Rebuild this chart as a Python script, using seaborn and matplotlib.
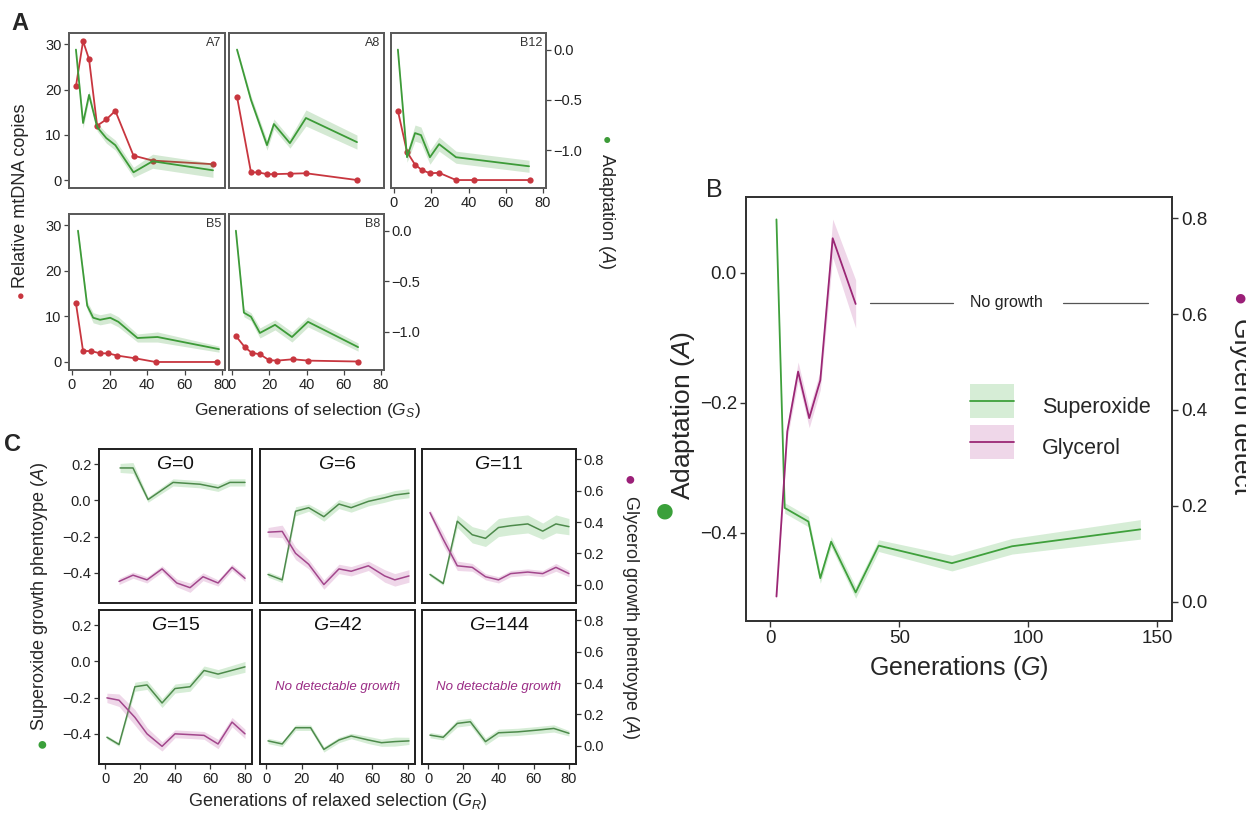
import numpy as np
import matplotlib
matplotlib.use("Agg")
import matplotlib.pyplot as plt
import seaborn as sns
from matplotlib.patches import Patch, Rectangle
from matplotlib.lines import Line2D
from matplotlib.legend_handler import HandlerPatch

# ======================= DATA =======================
# Panel A : relative mtDNA copies (left axis, red) and adaptation A (right axis, green)
A7_gen_mt = [2.1, 5.9, 9.1, 13.4, 18.3, 23.1, 32.8, 43.0, 75.2]
A7_mtdna = [20.7, 30.7, 26.7, 12.0, 13.4, 15.3, 5.4, 4.3, 3.5]
A7_gen_ad = [2.1, 5.9, 9.1, 13.4, 18.3, 23.1, 32.8, 43.0, 75.2]
A7_adapt = [0.0, -0.73, -0.45, -0.77, -0.88, -0.95, -1.22, -1.11, -1.20]
A7_adapt_err = [0.02, 0.05, 0.04, 0.04, 0.05, 0.05, 0.05, 0.07, 0.07]

A8_gen_mt = [2.7, 10.2, 14.0, 18.8, 22.5, 31.1, 39.7, 67.1]
A8_mtdna = [18.4, 1.7, 1.7, 1.3, 1.3, 1.4, 1.5, 0.0]
A8_gen_ad = [2.7, 10.2, 18.8, 22.5, 31.1, 39.7, 67.1]
A8_adapt = [0.0, -0.50, -0.95, -0.74, -0.93, -0.68, -0.92]
A8_adapt_err = [0.02, 0.04, 0.05, 0.05, 0.05, 0.08, 0.07]

B12_gen_mt = [2.1, 7.0, 11.3, 15.0, 19.3, 24.2, 33.3, 43.0, 73.0]
B12_mtdna = [15.3, 6.2, 3.4, 2.2, 1.5, 1.6, 0.0, 0.0, 0.0]
B12_gen_ad = [2.1, 7.0, 11.3, 14.5, 19.3, 24.2, 33.3, 72.5]
B12_adapt = [0.0, -1.07, -0.83, -0.85, -1.07, -0.94, -1.07, -1.16]
B12_adapt_err = [0.02, 0.05, 0.08, 0.08, 0.07, 0.07, 0.06, 0.06]

B5_gen_mt = [2.1, 5.9, 10.2, 15.0, 19.3, 24.2, 33.8, 44.6, 77.3]
B5_mtdna = [12.9, 2.4, 2.4, 1.9, 1.9, 1.4, 0.8, 0.0, 0.0]
B5_gen_ad = [3.2, 8.1, 11.3, 15.0, 20.4, 24.7, 34.9, 45.6, 78.4]
B5_adapt = [0.0, -0.74, -0.86, -0.88, -0.86, -0.90, -1.06, -1.05, -1.17]
B5_adapt_err = [0.02, 0.04, 0.05, 0.05, 0.05, 0.05, 0.04, 0.05, 0.03]

B8_gen_mt = [2.1, 7.0, 10.7, 15.0, 19.9, 24.2, 32.8, 40.8, 67.7]
B8_mtdna = [5.7, 3.2, 2.0, 1.7, 0.4, 0.3, 0.6, 0.3, 0.1]
B8_gen_ad = [2.1, 6.4, 10.2, 15.0, 23.1, 32.2, 40.8, 67.7]
B8_adapt = [0.0, -0.81, -0.85, -1.01, -0.93, -1.05, -0.90, -1.15]
B8_adapt_err = [0.02, 0.04, 0.04, 0.05, 0.05, 0.05, 0.05, 0.04]

# Panel B : adaptation over generations
B_gen_sup = [2.4, 5.6, 14.8, 19.4, 23.6, 33.1, 42.0, 70.4, 93.7, 143.4]
B_sup = [0.082, -0.362, -0.383, -0.470, -0.414, -0.492, -0.420, -0.447, -0.421, -0.395]
B_sup_err = [0.004, 0.008, 0.008, 0.008, 0.008, 0.009, 0.009, 0.012, 0.012, 0.015]
B_gen_gly = [2.4, 6.6, 10.8, 15.1, 19.4, 24.2, 33.1]
B_gly = [0.011, 0.355, 0.48, 0.383, 0.462, 0.758, 0.621]
B_gly_err = [0.008, 0.015, 0.02, 0.02, 0.02, 0.04, 0.05]
B_nogrowth_left = [38.7, 70.8]
B_nogrowth_right = [113.5, 146.5]
B_nogrowth_level = 0.623
B_nogrowth_textx = 91.5
B_labels = ["Superoxide", "Glycerol"]

# Panel C : relaxed selection, superoxide (left axis) / glycerol (right axis)
C_titles = ["0", "6", "11", "15", "42", "144"]

C0_gen_sup = [8.6, 16.0, 24.6, 38.9, 54.3, 64.6, 71.4, 80.0]
C0_sup = [0.18, 0.18, 0.005, 0.10, 0.09, 0.07, 0.10, 0.10]
C0_sup_err = [0.025, 0.03, 0.015, 0.02, 0.02, 0.02, 0.02, 0.02]
C0_gen_gly = [8.0, 16.0, 24.0, 32.6, 41.0, 48.6, 56.0, 64.6, 72.6, 80.0]
C0_gly = [0.02, 0.06, 0.03, 0.10, 0.01, -0.02, 0.05, 0.01, 0.11, 0.04]
C0_gly_err = [0.02, 0.02, 0.02, 0.02, 0.025, 0.03, 0.025, 0.02, 0.02, 0.02]

C6_gen = [1.1, 9.1, 16.6, 24.0, 32.6, 41.1, 48.0, 57.7, 66.9, 72.6, 80.6]
C6_sup = [-0.41, -0.44, -0.06, -0.04, -0.09, -0.02, -0.04, -0.005, 0.015, 0.03, 0.04]
C6_sup_err = [0.015, 0.015, 0.025, 0.02, 0.025, 0.025, 0.025, 0.025, 0.025, 0.025, 0.025]
C6_gly = [0.335, 0.34, 0.20, 0.13, 0.0, 0.10, 0.085, 0.12, 0.055, 0.03, 0.055]
C6_gly_err = [0.03, 0.04, 0.04, 0.03, 0.03, 0.03, 0.03, 0.03, 0.04, 0.04, 0.04]

C11_gen = [1.1, 8.6, 16.6, 25.1, 32.6, 40.0, 46.9, 56.6, 65.1, 72.6, 80.0]
C11_sup = [-0.41, -0.46, -0.115, -0.19, -0.21, -0.15, -0.14, -0.13, -0.17, -0.13, -0.145]
C11_sup_err = [0.01, 0.01, 0.035, 0.045, 0.045, 0.05, 0.05, 0.05, 0.045, 0.05, 0.045]
C11_gly = [0.46, 0.29, 0.12, 0.11, 0.05, 0.03, 0.07, 0.08, 0.07, 0.11, 0.07]
C11_gly_err = [0.02, 0.04, 0.03, 0.025, 0.02, 0.02, 0.02, 0.02, 0.02, 0.025, 0.02]

C15_gen_sup = [1.1, 8.0, 17.1, 24.0, 32.6, 40.0, 48.6, 56.6, 64.6, 80.0]
C15_sup = [-0.42, -0.46, -0.14, -0.13, -0.23, -0.15, -0.14, -0.05, -0.07, -0.03]
C15_sup_err = [0.01, 0.01, 0.025, 0.025, 0.025, 0.025, 0.025, 0.025, 0.025, 0.03]
C15_gen_gly = [1.1, 8.0, 17.1, 24.0, 32.6, 40.0, 48.6, 56.6, 64.6, 72.6, 80.0]
C15_gly = [0.305, 0.29, 0.18, 0.075, -0.005, 0.075, 0.07, 0.065, 0.01, 0.15, 0.075]
C15_gly_err = [0.03, 0.04, 0.05, 0.04, 0.03, 0.025, 0.025, 0.025, 0.03, 0.03, 0.03]

C42_gen = [1.1, 9.1, 16.6, 25.1, 32.6, 41.1, 48.0, 57.7, 65.1, 72.6, 80.6]
C42_sup = [-0.44, -0.457, -0.367, -0.367, -0.487, -0.435, -0.413, -0.435, -0.45, -0.444, -0.44]
C42_sup_err = [0.015, 0.015, 0.015, 0.015, 0.015, 0.015, 0.015, 0.02, 0.02, 0.025, 0.02]

C144_gen = [1.1, 8.6, 16.6, 24.0, 32.6, 40.0, 50.9, 62.3, 71.4, 80.0]
C144_sup = [-0.408, -0.42, -0.343, -0.334, -0.444, -0.395, -0.39, -0.38, -0.371, -0.398]
C144_sup_err = [0.015, 0.015, 0.02, 0.02, 0.02, 0.02, 0.02, 0.02, 0.02, 0.015]

# ======================= STYLE =======================
sns.set_theme(style="ticks")
plt.rcParams["font.family"] = ["Liberation Sans", "DejaVu Sans"]
plt.rcParams["mathtext.fontset"] = "custom"
plt.rcParams["mathtext.rm"] = "Liberation Sans"
plt.rcParams["mathtext.it"] = "Liberation Sans:italic"
plt.rcParams["mathtext.bf"] = "Liberation Sans:bold"
plt.rcParams["axes.unicode_minus"] = True

RED = "#c8363f"
GREEN_A = "#3d9b38"
C_GREEN = "#4d8a4b"
C_PURPLE = "#a2478c"
B_GREEN = "#3fa03c"
B_PURPLE = "#9b2775"
TXT_PURPLE = "#9b2d86"
MINUS = "\u2212"

W, H = 1246, 815
fig = plt.figure(figsize=(W / 100, H / 100), dpi=100)
fig.patch.set_facecolor("white")


def box(l, t, r, b):
    return [l / W, 1 - b / H, (r - l) / W, (b - t) / H]


def ftext(x, y, s, **kw):
    return fig.text(x / W, 1 - y / H, s, **kw)


def fmt(v):
    s = f"{v:.1f}"
    return s.replace("-", MINUS)


def band(ax, x, y, e, color, alpha):
    y = np.asarray(y, float)
    e = np.asarray(e, float)
    ax.fill_between(x, y - e, y + e, color=color, alpha=alpha, lw=0)


def clean(ax):
    ax.set_xlabel("")
    ax.set_ylabel("")


# ======================= PANEL A =======================
A_panels = [
    ((69, 33, 225, 188), A7_gen_mt, A7_mtdna, A7_gen_ad, A7_adapt, A7_adapt_err, "A7", True, False, False),
    ((229, 33, 384, 188), A8_gen_mt, A8_mtdna, A8_gen_ad, A8_adapt, A8_adapt_err, "A8", False, False, False),
    ((391, 33, 546, 188), B12_gen_mt, B12_mtdna, B12_gen_ad, B12_adapt, B12_adapt_err, "B12", False, True, True),
    ((69, 214, 225, 370), B5_gen_mt, B5_mtdna, B5_gen_ad, B5_adapt, B5_adapt_err, "B5", True, False, True),
    ((229, 214, 384, 370), B8_gen_mt, B8_mtdna, B8_gen_ad, B8_adapt, B8_adapt_err, "B8", False, True, True),
]
for b, gmt, mt, gad, ad, err, name, left, right, bottom in A_panels:
    ax = fig.add_axes(box(*b))
    ax2 = ax.twinx()
    sns.lineplot(x=gmt, y=mt, ax=ax, color=RED, lw=1.3, marker="o",
                 markersize=4.5, markeredgewidth=0)
    band(ax2, gad, ad, err, GREEN_A, 0.22)
    sns.lineplot(x=gad, y=ad, ax=ax2, color=GREEN_A, lw=1.3)
    ax.set_xlim(-1.6, 81.6)
    ax.set_ylim(-1.76, 32.5)
    ax2.set_ylim(-1.376, 0.165)
    ax.set_xticks([0, 20, 40, 60, 80])
    ax.set_yticks([0, 10, 20, 30])
    ax2.set_yticks([0.0, -0.5, -1.0])
    ax2.set_yticklabels([fmt(v) for v in [0.0, -0.5, -1.0]])
    clean(ax); clean(ax2)
    for a in (ax, ax2):
        for s in a.spines.values():
            s.set_color("#5a5a5a")
            s.set_linewidth(1.3)
        a.tick_params(direction="out", length=3.5, width=0.9, color="#444",
                      labelsize=10.5, pad=2, labelcolor="#222")
    ax.tick_params(axis="y", left=left, labelleft=left)
    ax.tick_params(axis="x", bottom=bottom, labelbottom=bottom)
    ax2.tick_params(axis="y", right=right, labelright=right)
    ax.text(0.975, 0.935, name, transform=ax.transAxes, ha="right", va="center",
            fontsize=9, color="#333")

# ======================= PANEL C =======================
C_boxes = [(99, 449, 252, 603), (260, 449, 415, 603), (422, 449, 576, 603),
           (99, 610, 252, 764), (260, 610, 415, 764), (422, 610, 576, 764)]
C_sup = [(C0_gen_sup, C0_sup, C0_sup_err), (C6_gen, C6_sup, C6_sup_err),
         (C11_gen, C11_sup, C11_sup_err), (C15_gen_sup, C15_sup, C15_sup_err),
         (C42_gen, C42_sup, C42_sup_err), (C144_gen, C144_sup, C144_sup_err)]
C_gly = [(C0_gen_gly, C0_gly, C0_gly_err), (C6_gen, C6_gly, C6_gly_err),
         (C11_gen, C11_gly, C11_gly_err), (C15_gen_gly, C15_gly, C15_gly_err),
         None, None]
for i, b in enumerate(C_boxes):
    ax = fig.add_axes(box(*b))
    ax2 = ax.twinx()
    gx, gy, ge = C_sup[i]
    band(ax, gx, gy, ge, "#5cb85c", 0.25)
    sns.lineplot(x=gx, y=gy, ax=ax, color=C_GREEN, lw=1.1)
    if C_gly[i] is not None:
        px, py, pe = C_gly[i]
        band(ax2, px, py, pe, "#c060a8", 0.25)
        sns.lineplot(x=px, y=py, ax=ax2, color=C_PURPLE, lw=1.1)
    else:
        ax.text(0.5, 0.5, "No detectable growth", transform=ax.transAxes,
                ha="center", va="center", fontsize=9.5, style="italic", color=TXT_PURPLE)
    ax.set_xlim(-3.43, 84.0)
    ax.set_ylim(-0.568, 0.285)
    ax2.set_ylim(-0.118, 0.867)
    ax.set_xticks([0, 20, 40, 60, 80])
    ax.set_yticks([-0.4, -0.2, 0.0, 0.2])
    ax.set_yticklabels([fmt(v) for v in [-0.4, -0.2, 0.0, 0.2]])
    ax2.set_yticks([0.0, 0.2, 0.4, 0.6, 0.8])
    ax2.set_yticklabels([fmt(v) for v in [0.0, 0.2, 0.4, 0.6, 0.8]])
    clean(ax); clean(ax2)
    col, row = i % 3, i // 3
    for a in (ax, ax2):
        for s in a.spines.values():
            s.set_color("#222")
            s.set_linewidth(1.3)
        a.tick_params(direction="out", length=3.5, width=0.9, color="#333",
                      labelsize=10.5, pad=2, labelcolor="#222")
    ax.tick_params(axis="y", left=(col == 0), labelleft=(col == 0))
    ax.tick_params(axis="x", bottom=(row == 1), labelbottom=(row == 1))
    ax2.tick_params(axis="y", right=(col == 2), labelright=(col == 2))
    ax.text(0.5, 1 - 16 / 154, "$G$=" + C_titles[i], transform=ax.transAxes,
            ha="center", va="center", fontsize=14, color="#111")

# ======================= PANEL B =======================
axb = fig.add_axes(box(746, 197, 1172, 621))
axb2 = axb.twinx()
band(axb, B_gen_sup, B_sup, B_sup_err, "#5cb85c", 0.25)
sns.lineplot(x=B_gen_sup, y=B_sup, ax=axb, color=B_GREEN, lw=1.3)
band(axb2, B_gen_gly, B_gly, B_gly_err, "#c060a8", 0.25)
sns.lineplot(x=B_gen_gly, y=B_gly, ax=axb2, color=B_PURPLE, lw=1.3)
axb.set_xlim(-9.4, 155.7)
axb.set_ylim(-0.536, 0.1165)
axb2.set_ylim(-0.04, 0.844)
axb.set_xticks([0, 50, 100, 150])
axb.set_yticks([-0.4, -0.2, 0.0])
axb.set_yticklabels([fmt(v) for v in [-0.4, -0.2, 0.0]])
axb2.set_yticks([0.0, 0.2, 0.4, 0.6, 0.8])
axb2.set_yticklabels([fmt(v) for v in [0.0, 0.2, 0.4, 0.6, 0.8]])
clean(axb); clean(axb2)
for a in (axb, axb2):
    for s in a.spines.values():
        s.set_color("#333")
        s.set_linewidth(1.3)
    a.tick_params(direction="out", length=4, width=1.0, color="#333",
                  labelsize=13.5, pad=2.5, labelcolor="#222")

axb2.plot(B_nogrowth_left, [B_nogrowth_level] * 2, color="#555", lw=0.9)
axb2.plot(B_nogrowth_right, [B_nogrowth_level] * 2, color="#555", lw=0.9)
axb2.text(B_nogrowth_textx, B_nogrowth_level, "No growth", ha="center", va="center",
          fontsize=11.5, color="#222")


def centered_patch(legend, orig_handle, xdescent, ydescent, width, height, fontsize):
    yc = (height - ydescent) / 2.0
    return Rectangle((-xdescent, yc - height / 2.0), width, height)


handles = [
    (Patch(facecolor="#5cb85c", edgecolor="none", alpha=0.25),
     Line2D([], [], color=B_GREEN, lw=1.3)),
    (Patch(facecolor="#c060a8", edgecolor="none", alpha=0.25),
     Line2D([], [], color=B_PURPLE, lw=1.3)),
]
axb2.legend(handles, B_labels, loc="upper left",
            bbox_to_anchor=(970 / W, 1 - 389 / H), bbox_transform=fig.transFigure,
            frameon=False, fontsize=15.5, handlelength=2.05, handleheight=2.05,
            handletextpad=1.3, labelspacing=0.33, borderpad=0, borderaxespad=0,
            handler_map={Patch: HandlerPatch(patch_func=centered_patch)})

# ======================= FIGURE TEXT =======================
ftext(28, 23, "A", ha="right", va="center", fontsize=17, fontweight="bold")
ftext(714, 190, "B", ha="center", va="center", fontsize=18)
ftext(21, 445, "C", ha="right", va="center", fontsize=17, fontweight="bold")

# Panel A labels
ftext(21, 288, "Relative mtDNA copies", rotation=90, ha="center", va="bottom", fontsize=13)
ftext(21, 297, "\u25cf", color=RED, fontsize=9, ha="center", va="center")
ftext(607, 153, "Adaptation ($A$)", rotation=-90, ha="center", va="top", fontsize=13)
ftext(607, 140, "\u25cf", color=GREEN_A, fontsize=10, ha="center", va="center")
ftext(307, 410, "Generations of selection ($G_S$)", ha="center", va="center", fontsize=12.5)

# Panel C labels
ftext(40, 596, "Superoxide growth phentoype ($A$)", rotation=90, ha="center", va="center", fontsize=13)
ftext(42, 745, "\u25cf", color="#3aa03a", fontsize=13, ha="center", va="center")
ftext(631, 495, "Glycerol growth phentoype ($A$)", rotation=-90, ha="center", va="top", fontsize=13)
ftext(630, 480, "\u25cf", color="#9b1f78", fontsize=13, ha="center", va="center")
ftext(338, 802, "Generations of relaxed selection ($G_R$)", ha="center", va="center", fontsize=13)

# Panel B labels
ftext(683, 415, "Adaptation ($A$)", rotation=90, ha="center", va="center", fontsize=19)
ftext(665, 512, "\u25cf", color="#3aa03a", fontsize=26, ha="center", va="center")
ftext(1241, 318, "Glycerol detect", rotation=-90, ha="center", va="top", fontsize=19)
ftext(1240, 299, "\u25cf", color="#9b1f78", fontsize=16, ha="center", va="center")
ftext(959, 668, "Generations ($G$)", ha="center", va="center", fontsize=18)

fig.savefig("out.png", dpi=100, facecolor="white")
